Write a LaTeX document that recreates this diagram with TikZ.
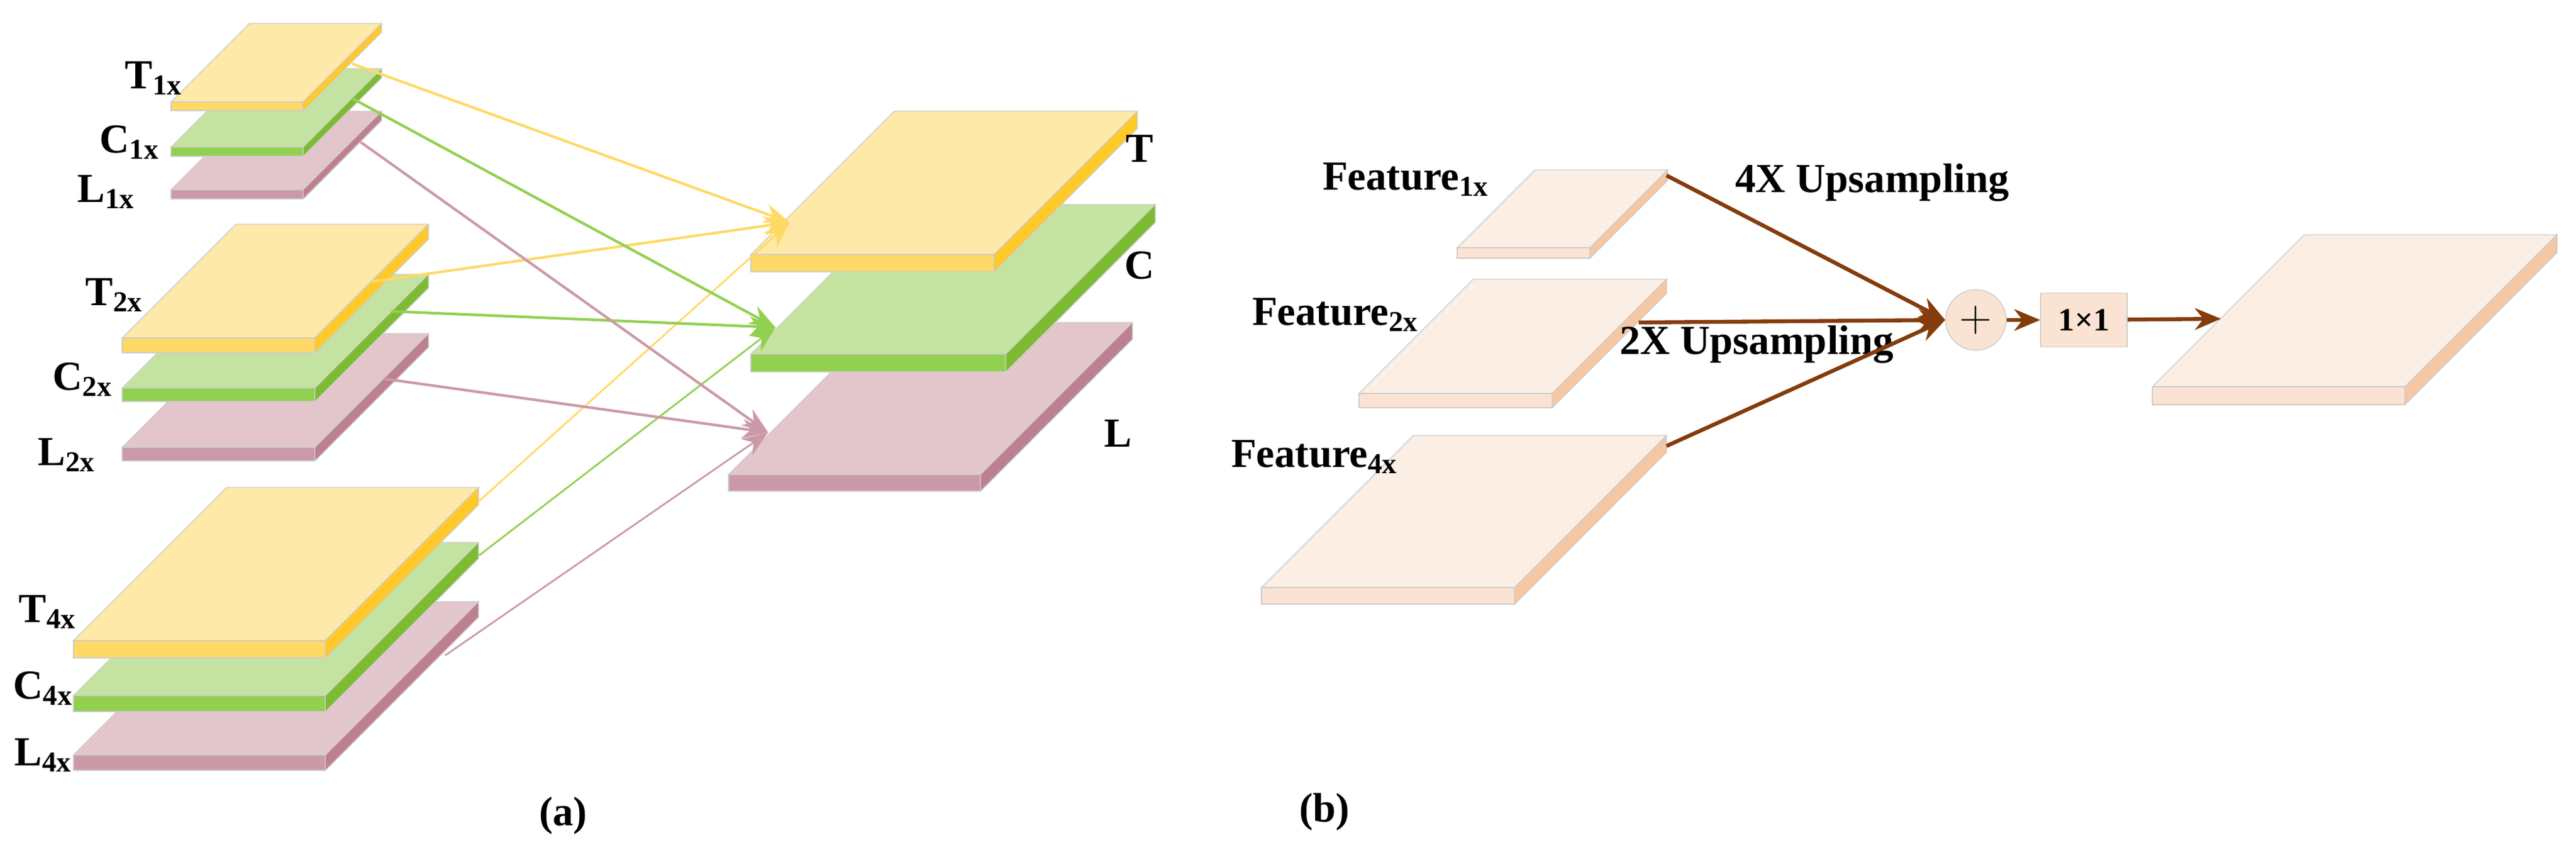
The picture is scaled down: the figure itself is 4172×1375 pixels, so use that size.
\documentclass[tikz,border=0pt]{standalone}
\usepackage{fontspec}
\setmainfont{Liberation Serif}
\usetikzlibrary{arrows.meta}
\definecolor{topY}{HTML}{FFE9A8}\definecolor{frontY}{HTML}{FFD966}\definecolor{sideY}{HTML}{FFC929}
\definecolor{topG}{HTML}{C5E3A0}\definecolor{frontG}{HTML}{92D050}\definecolor{sideG}{HTML}{7CBB32}
\definecolor{topP}{HTML}{E3C6CC}\definecolor{frontP}{HTML}{CC99A8}\definecolor{sideP}{HTML}{BC8090}
\definecolor{topF}{HTML}{FBEEE4}\definecolor{frontF}{HTML}{FAE3D3}\definecolor{sideF}{HTML}{F6C7A3}
\definecolor{brownA}{HTML}{843C0C}
% #1 colour key, #2 x, #3 y, #4 width, #5 depth, #6 thickness
\newcommand{\Slab}[6]{
  \filldraw[draw=black!20, fill=top#1] (#2,#3) -- ++(#4,0) -- ++(#5,-#5) -- ++(-#4,0) -- cycle;
  \filldraw[draw=black!20, fill=front#1] (#2,#3) rectangle ++(#4,#6);
  \filldraw[draw=black!20, fill=side#1] (#2+#4,#3) -- ++(#5,-#5) -- ++(0,#6) -- ++(-#5,#5) -- cycle;
}
\tikzset{
  lbl/.style={font=\fontsize{19}{19}\selectfont\bfseries},
  arr/.style={line width=1.2pt, -{Stealth[length=12pt,width=9pt]}},
  barr/.style={line width=1.8pt, draw=brownA, -{Stealth[length=12pt,width=10pt]}}
}
\begin{document}
\begin{tikzpicture}[x=0.01cm,y=-0.01cm]
\useasboundingbox (0,0) rectangle (4172,1375);
% (a) inputs
\Slab{P}{277}{307}{214}{127}{15}
\Slab{G}{277}{238}{214}{127}{15}
\Slab{Y}{277}{165}{214}{127}{14}
\Slab{P}{198}{724}{312}{184}{22}
\Slab{G}{198}{628}{312}{184}{22}
\Slab{Y}{198}{547}{312}{184}{24}
\Slab{P}{119}{1222}{408}{248}{25}
\Slab{G}{119}{1126}{408}{248}{26}
\Slab{Y}{119}{1037}{408}{248}{28}
% (a) outputs
\Slab{P}{1180}{768}{408}{246}{27}
\Slab{G}{1216}{573}{413}{242}{29}
\Slab{Y}{1216}{412}{394}{232}{28}
\node[lbl] (t1) at (249,127) {T\textsubscript{1x}};
\node[lbl] (c1) at (210,230) {C\textsubscript{1x}};
\node[lbl] (l1) at (172,311) {L\textsubscript{1x}};
\node[lbl] (t2) at (185,478) {T\textsubscript{2x}};
\node[lbl] (c2) at (134,614) {C\textsubscript{2x}};
\node[lbl] (l2) at (108,737) {L\textsubscript{2x}};
\node[lbl] (t4) at (77,991) {T\textsubscript{4x}};
\node[lbl] (c4) at (70,1114) {C\textsubscript{4x}};
\node[lbl] (l4) at (70,1223) {L\textsubscript{4x}};
\node[lbl] (tT) at (1846,241) {T};
\node[lbl] (tC) at (1846,430) {C};
\node[lbl] (tL) at (1811,702) {L};
\node[lbl] (capa) at (912,1320) {(a)};
\coordinate (sT1) at (570,103); \coordinate (sC1) at (570,159); \coordinate (sL1) at (584,230);
\coordinate (sT2) at (602,456); \coordinate (sC2) at (634,504); \coordinate (sL2) at (621,613);
\coordinate (sT4) at (776,811); \coordinate (sC4) at (776,899); \coordinate (sL4) at (721,1061);
\coordinate (eT) at (1279,360); \coordinate (eC) at (1256,530); \coordinate (eL) at (1244,700);
\draw[arr, frontY] (sT1) -- (eT);
\draw[arr, frontY] (sT2) -- (eT);
\draw[arr, frontY, line width=0.8pt] (sT4) -- (eT);
\draw[arr, frontG] (sC1) -- (eC);
\draw[arr, frontG] (sC2) -- (eC);
\draw[arr, frontG, line width=0.8pt] (sC4) -- (eC);
\draw[arr, frontP] (sL1) -- (eL);
\draw[arr, frontP] (sL2) -- (eL);
\draw[arr, frontP, line width=0.8pt] (sL4) -- (eL);
% (b)
\Slab{F}{2360}{401}{215}{126}{17}
\Slab{F}{2201}{637}{313}{185}{23}
\Slab{F}{2043}{951}{410}{246}{27}
\Slab{F}{3486}{626}{409}{246}{29}
\node[lbl] (f1) at (2277,291) {Feature\textsubscript{1x}};
\node[lbl] (f2) at (2163,510) {Feature\textsubscript{2x}};
\node[lbl] (f4) at (2129,740) {Feature\textsubscript{4x}};
\node[lbl] (up4) at (3032,296) {4X Upsampling};
\node[lbl] (up2) at (2845,558) {2X Upsampling};
\node[circle, draw=black!20, fill=frontF, minimum size=0.98cm, inner sep=0pt, font=\huge] (plus) at (3200,518) {$+$};
\node[draw=black!20, fill=frontF, minimum width=1.4cm, minimum height=0.87cm, font=\fontsize{15}{15}\selectfont\bfseries] (conv) at (3375,518) {1×1};
\coordinate (s1) at (2699,284); \coordinate (s2) at (2654,522); \coordinate (s4) at (2699,722);
\coordinate (out) at (3597,516);
\draw[barr] (s1) -- (plus.west);
\draw[barr] (s2) -- (plus.west);
\draw[barr] (s4) -- (plus.west);
\draw[barr] (plus) -- (conv);
\draw[barr] (conv) -- (out);
\node[lbl] (capb) at (2145,1314) {(b)};
\end{tikzpicture}
\end{document}
